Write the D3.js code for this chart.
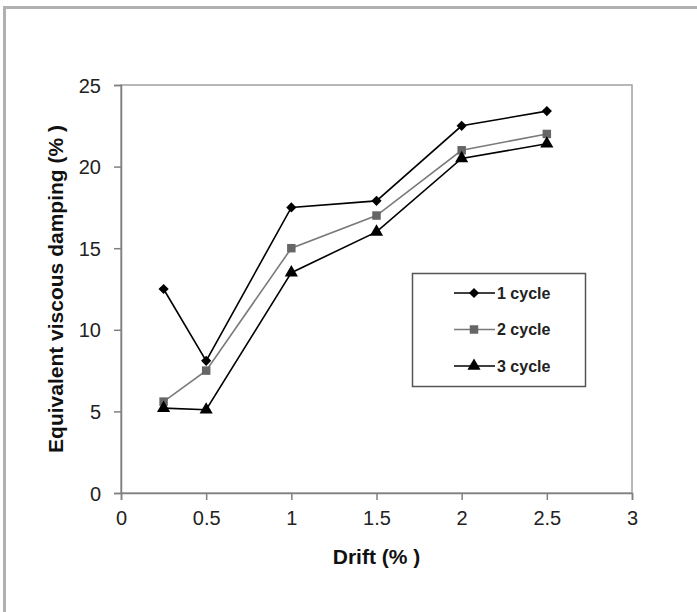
<!DOCTYPE html>
<html>
<head>
<meta charset="utf-8">
<script src="https://cdn.jsdelivr.net/npm/d3@7"></script>
<style>
  html, body { margin: 0; padding: 0; background: #fff; }
  svg { display: block; font-family: "Liberation Sans", Arial, sans-serif; }
</style>
</head>
<body>
<svg id="chart" width="697" height="612"></svg>
<script>
// ---- data ----
const drift = [0.25, 0.5, 1, 1.5, 2, 2.5];
const cycle1 = [12.5, 8.1, 17.5, 17.9, 22.5, 23.4];
const cycle2 = [5.6, 7.5, 15.0, 17.0, 21.0, 22.0];
const cycle3 = [5.2, 5.1, 13.5, 16.0, 20.5, 21.4];
const seriesNames = ["1 cycle", "2 cycle", "3 cycle"];
const xTicks = [0, 0.5, 1, 1.5, 2, 2.5, 3];
const yTicks = [0, 5, 10, 15, 20, 25];

const svg = d3.select("#chart");

// outer gray frame (only top/left visible)
svg.append("rect")
  .attr("x", 4.5).attr("y", 7.5)
  .attr("width", 720).attr("height", 640)
  .attr("fill", "none")
  .attr("stroke", "#b0b0b0")
  .attr("stroke-width", 3);

const plot = { left: 121, right: 632, top: 85, bottom: 493 };

const x = d3.scaleLinear().domain([0, 3]).range([plot.left, plot.right]);
const y = d3.scaleLinear().domain([0, 25]).range([plot.bottom, plot.top]);

// plot frame
svg.append("rect")
  .attr("x", plot.left).attr("y", plot.top)
  .attr("width", plot.right - plot.left)
  .attr("height", plot.bottom - plot.top)
  .attr("fill", "none")
  .attr("stroke", "#a0a0a0")
  .attr("stroke-width", 1.5);

// axes
const xAxis = svg.append("g")
  .attr("transform", `translate(0,${plot.bottom})`)
  .call(d3.axisBottom(x).tickValues(xTicks).tickSize(7).tickPadding(11)
    .tickFormat(d3.format("")));
const yAxis = svg.append("g")
  .attr("transform", `translate(${plot.left},0)`)
  .call(d3.axisLeft(y).tickValues(yTicks).tickSize(7).tickPadding(13));

[xAxis, yAxis].forEach((ax) => {
  ax.select(".domain").attr("stroke", "#808080").attr("stroke-width", 1.5);
  ax.selectAll(".tick line").attr("stroke", "#808080").attr("stroke-width", 1.5);
  ax.selectAll(".tick text")
    .attr("fill", "#222")
    .style("font-size", "20px")
    .style("font-family", "'Liberation Sans', Arial, sans-serif");
});
xAxis.selectAll(".tick text").attr("dy", "0.71em");
yAxis.selectAll(".tick text").attr("dy", "0.35em");

// axis titles
svg.append("text")
  .attr("x", (plot.left + plot.right) / 2)
  .attr("y", 564)
  .attr("text-anchor", "middle")
  .attr("font-weight", "bold")
  .attr("font-size", 21)
  .attr("fill", "#111")
  .text("Drift (% )");

svg.append("text")
  .attr("transform", `translate(63,${(plot.top + plot.bottom) / 2}) rotate(-90)`)
  .attr("text-anchor", "middle")
  .attr("font-weight", "bold")
  .attr("font-size", 21)
  .attr("fill", "#111")
  .text("Equivalent viscous damping (% )");

// series
const series = [
  { name: seriesNames[0], values: cycle1, line: "#000", fill: "#000", shape: d3.symbolSquare, size: 52, rot: 45 },
  { name: seriesNames[1], values: cycle2, line: "#7a7a7a", fill: "#666", shape: d3.symbolSquare, size: 72, rot: 0 },
  { name: seriesNames[2], values: cycle3, line: "#000", fill: "#000", shape: d3.symbolTriangle, size: 75, rot: 0 },
];

const line = d3.line()
  .x((d) => x(d[0]))
  .y((d) => y(d[1]));

series.forEach((s) => {
  const pts = drift.map((dv, i) => [dv, s.values[i]]);
  svg.append("path")
    .datum(pts)
    .attr("d", line)
    .attr("fill", "none")
    .attr("stroke", s.line)
    .attr("stroke-width", 1.6);
  svg.append("g")
    .selectAll("path")
    .data(pts)
    .join("path")
    .attr("transform", (d) => `translate(${x(d[0])},${y(d[1])}) rotate(${s.rot})`)
    .attr("d", d3.symbol().type(s.shape).size(s.size))
    .attr("fill", s.fill);
});

// legend
const legend = svg.append("g");
legend.append("rect")
  .attr("x", 412.5).attr("y", 273.5)
  .attr("width", 173).attr("height", 113)
  .attr("fill", "#fff")
  .attr("stroke", "#555")
  .attr("stroke-width", 1.5);

const legendY = d3.scalePoint().domain(seriesNames).range([293, 366]);

series.forEach((s) => {
  const ly = legendY(s.name);
  legend.append("line")
    .attr("x1", 454).attr("x2", 495)
    .attr("y1", ly).attr("y2", ly)
    .attr("stroke", s.line)
    .attr("stroke-width", 1.6);
  legend.append("path")
    .attr("transform", `translate(474,${ly}) rotate(${s.rot})`)
    .attr("d", d3.symbol().type(s.shape).size(s.size))
    .attr("fill", s.fill);
  legend.append("text")
    .attr("x", 497).attr("y", ly)
    .attr("dy", "0.35em")
    .attr("font-weight", "bold")
    .attr("font-size", 16)
    .attr("fill", "#222")
    .text(s.name);
});
</script>
</body>
</html>
